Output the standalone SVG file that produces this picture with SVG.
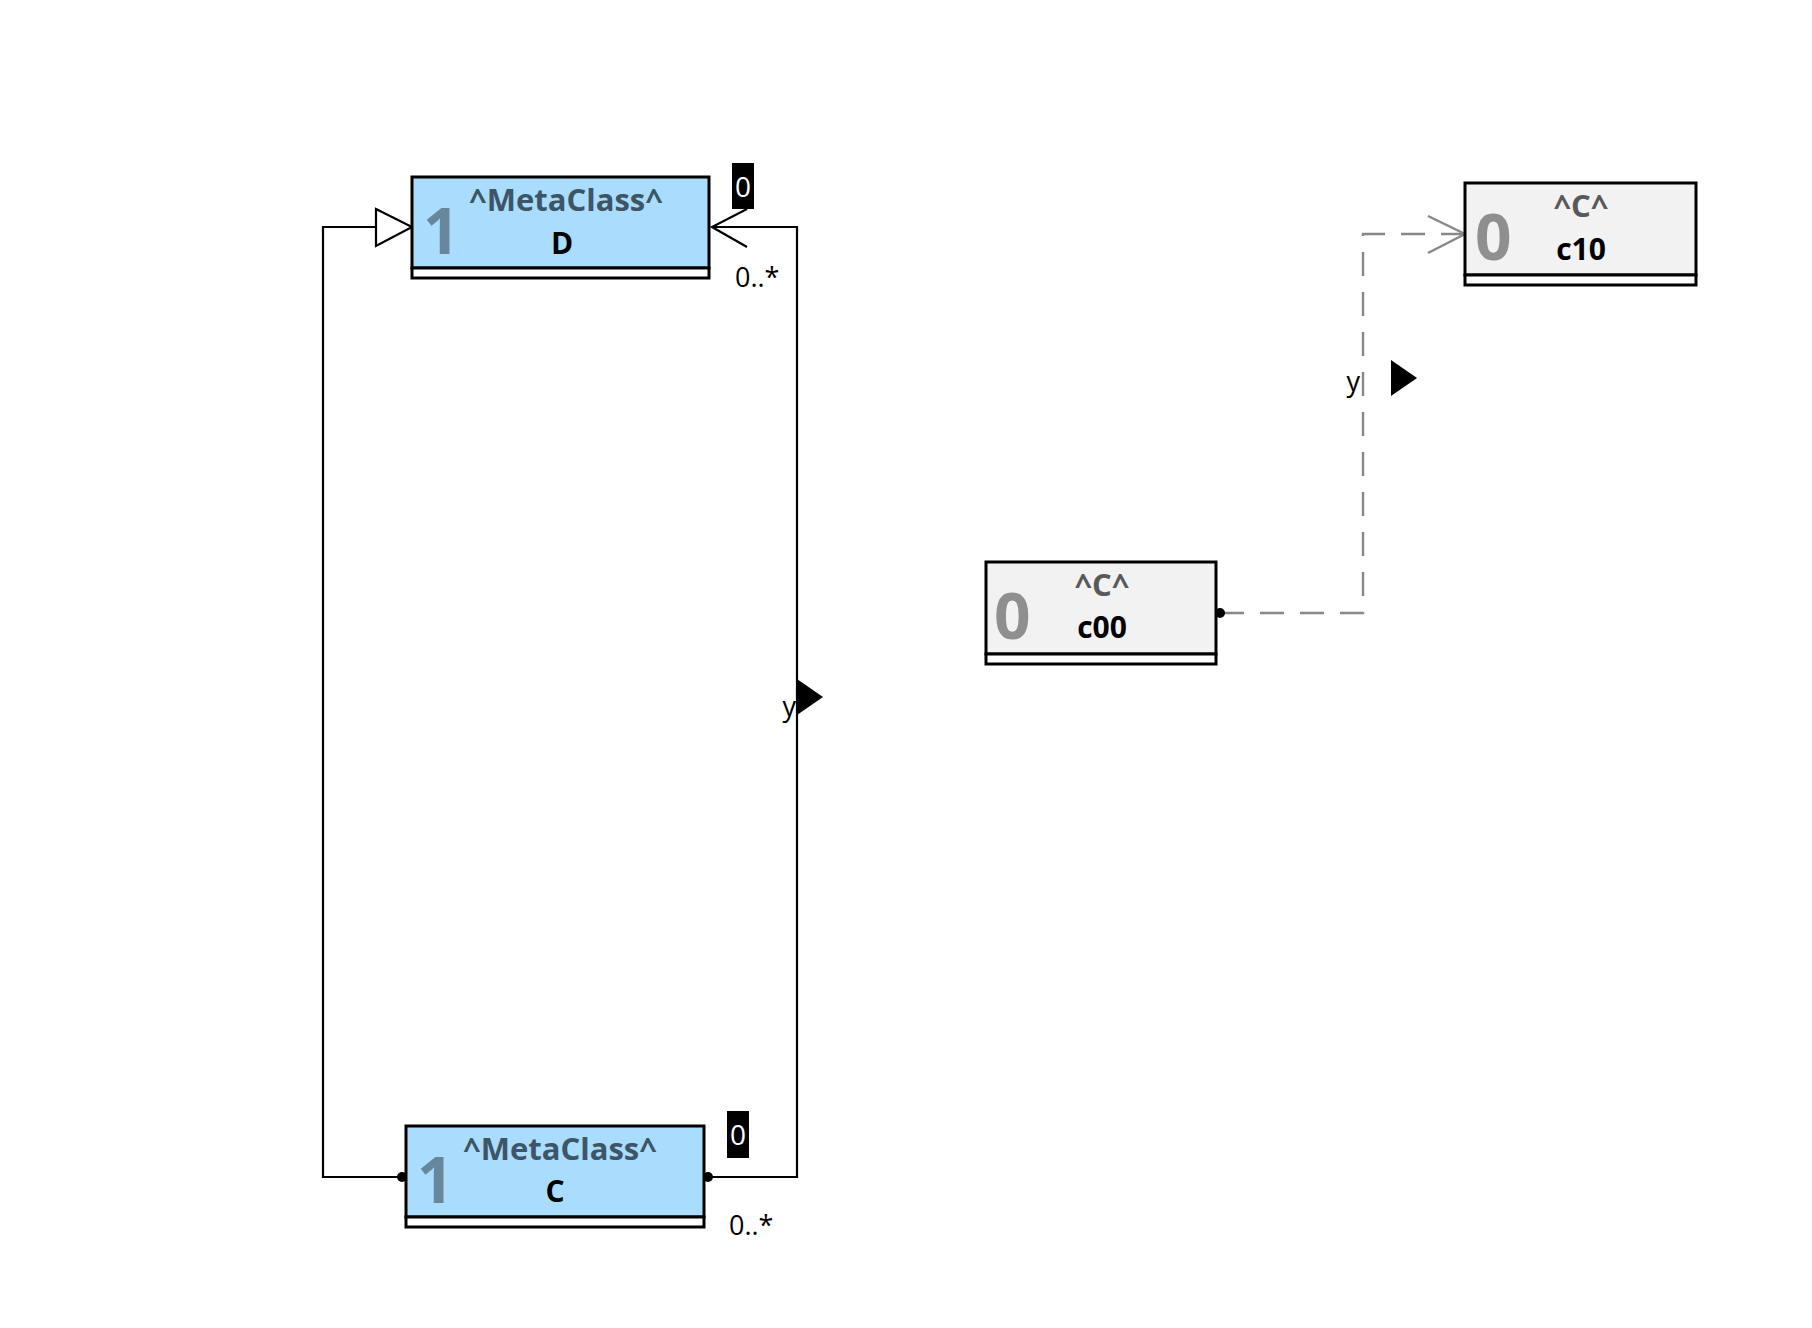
<svg xmlns="http://www.w3.org/2000/svg" width="1812" height="1328" viewBox="0 0 1812 1328">
<style>
.bg{fill:#ffffff}
.box{stroke:#000;stroke-width:3}
.meta{fill:#a9dcfd}
.inst{fill:#f2f2f2}
.comp{fill:#ffffff;stroke:#000;stroke-width:3}
.t{font-family:"Open Sans","Noto Sans","Liberation Sans",sans-serif}
.ster{font-size:31px;font-weight:bold;text-anchor:middle}
.name{font-size:30px;font-weight:bold;text-anchor:middle;fill:#000}
.big{font-size:64px;font-weight:bold}
.mster{fill:#3d5566}
.mbig{fill:#66879c}
.ister{fill:#595959}
.ibig{fill:#8f8f8f}
.line{fill:none;stroke:#000;stroke-width:2.2}
.dash{fill:none;stroke:#888;stroke-width:2.4;stroke-dasharray:24 16}
.lbl{font-size:27px;fill:#000}
.tag{fill:#000}
.tagt{font-size:28px;fill:#fff;text-anchor:middle}
</style>
<rect class="bg" x="0" y="0" width="1812" height="1328"/>

<g id="connectors">
  <g id="gen-C-D">
    <polyline class="line" points="402,1177 323,1177 323,227 376,227"/>
    <polygon points="376,209 412,227 376,246" fill="#fff" stroke="#000" stroke-width="2.2"/>
    <circle cx="402" cy="1177" r="5" fill="#000"/>
  </g>
  <g id="assoc-y-C-D">
    <polyline class="line" points="708,1177 797,1177 797,227 712,227"/>
    <polyline class="line" points="747,209 712,227 747,247"/>
    <circle cx="708" cy="1177" r="5" fill="#000"/>
    <polygon points="797,679 797,715 823,697" fill="#000"/>
    <text class="t lbl" x="796" y="716" text-anchor="end">y</text>
    <rect class="tag" x="732" y="163" width="22" height="46"/>
    <text class="t tagt" x="743" y="197">0</text>
    <text class="t lbl" x="735" y="287">0..*</text>
    <rect class="tag" x="727" y="1111" width="22" height="47"/>
    <text class="t tagt" x="738" y="1145">0</text>
    <text class="t lbl" x="729" y="1235">0..*</text>
  </g>
  <g id="link-y-c00-c10">
    <polyline class="dash" points="1220,613 1363,613 1363,234 1463,234"/>
    <polyline points="1428,216 1465,234 1428,253" fill="none" stroke="#888" stroke-width="2.4"/>
    <circle cx="1220" cy="613" r="5" fill="#000"/>
    <polygon points="1391,360 1391,396 1417,378" fill="#000"/>
    <text class="t lbl" x="1360" y="391" text-anchor="end">y</text>
  </g>
</g>

<g id="node-D">
  <rect class="box meta" x="412" y="177" width="297" height="91"/>
  <rect class="comp" x="412" y="268" width="297" height="10"/>
  <text class="t big mbig" x="423" y="254">1</text>
  <text class="t ster mster" x="566" y="211">^MetaClass^</text>
  <text class="t name" x="562" y="254">D</text>
</g>

<g id="node-C">
  <rect class="box meta" x="406" y="1126" width="298" height="91"/>
  <rect class="comp" x="406" y="1217" width="298" height="10"/>
  <text class="t big mbig" x="417" y="1203">1</text>
  <text class="t ster mster" x="560" y="1160">^MetaClass^</text>
  <text class="t name" x="555" y="1202">C</text>
</g>

<g id="node-c00">
  <rect class="box inst" x="986" y="562" width="230" height="92"/>
  <rect class="comp" x="986" y="654" width="230" height="10"/>
  <text class="t big ibig" x="994" y="639">0</text>
  <text class="t ster ister" x="1102" y="596">^C^</text>
  <text class="t name" x="1102" y="638">c00</text>
</g>

<g id="node-c10">
  <rect class="box inst" x="1465" y="183" width="231" height="92"/>
  <rect class="comp" x="1465" y="275" width="231" height="10"/>
  <text class="t big ibig" x="1475" y="260">0</text>
  <text class="t ster ister" x="1581" y="217">^C^</text>
  <text class="t name" x="1581" y="260">c10</text>
</g>
</svg>
